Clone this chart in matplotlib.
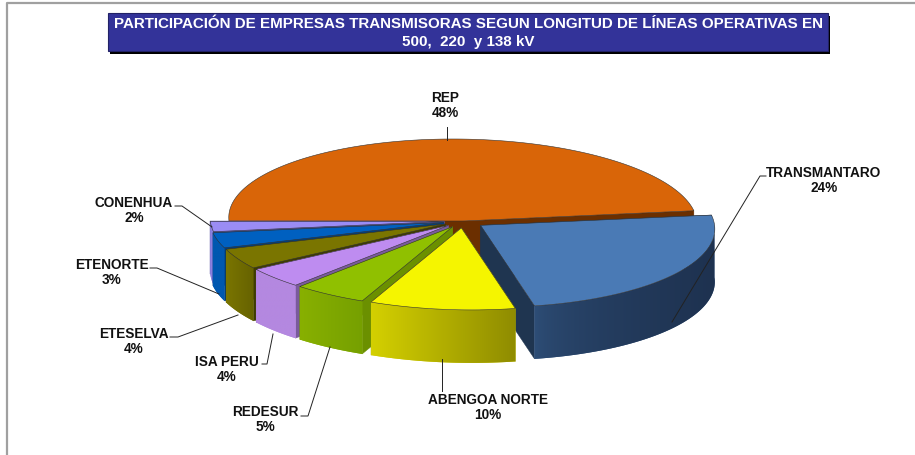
import numpy as np
import matplotlib
matplotlib.use("Agg")
import matplotlib.pyplot as plt
from matplotlib.colors import to_rgb
from matplotlib.patches import Polygon, Rectangle

plt.rcParams['font.family'] = ['Liberation Sans', 'DejaVu Sans']

# DATA (clockwise from the left edge of REP)
companies = ["REP", "TRANSMANTARO", "ABENGOA NORTE", "REDESUR", "ISA PERU", "ETESELVA", "ETENORTE", "CONENHUA"]
shares = [48, 24, 10, 5, 4, 4, 3, 2]
title_lines = ["PARTICIPACIÓN DE EMPRESAS TRANSMISORAS SEGUN LONGITUD DE LÍNEAS OPERATIVAS EN",
               "500,  220  y 138 kV"]

# PIE GEOMETRY (pixels)
CX, CY = 463, 222
RX, RY = 234, 82
DEPTH = 53
SHEAR = 0.125
START = 180
explode = [0, 0.09, 0.085, 0.085, 0.085, 0.085, 0.085, 0.08]
draw_order = [0, 7, 6, 5, 4, 3, 1, 2]

# COLORS
top_col = ["#D96508", "#4A7AB5", "#F5F500", "#90C000", "#BE8CF0", "#7A7500", "#0060C0", "#9A8CF5"]
side_col = ["#6B2F00", "#1F3550", "#8F8C00", "#6B9000", "#7A5A9C", "#3F3C00", "#003F80", "#6058A8"]
outer_left = ["#6B2F00", "#2F507A", "#D4D000", "#88B000", "#B488E0", "#7A7500", "#0058B0", "#8C80E0"]
outer_right = ["#6B2F00", "#1E3250", "#8F8C00", "#76A000", "#B488E0", "#666200", "#0058B0", "#8C80E0"]
grad_power = [1, 0.5, 1, 1, 1, 1, 1, 1]

# LABELS (text centre x, first line y)
label_pos = [(445, 98), (824, 173), (488, 400), (265, 412), (227, 362), (134, 334), (112, 265), (134, 203)]
leaders = [
    [(447, 128), (447, 141)],
    [(766, 177), (760, 177), (672, 323)],
    [(442, 360), (442, 392)],
    [(301, 417), (308, 417), (330, 348)],
    [(262, 365), (267, 365), (273, 335)],
    [(170, 338), (178, 338), (238, 316)],
    [(150, 269), (157, 269), (219, 295)],
    [(175, 207), (182, 207), (212, 228)],
]

fig = plt.figure(figsize=(9.15, 4.56), dpi=100)
ax = fig.add_axes([0, 0, 1, 1])
ax.set_xlim(0, 915)
ax.set_ylim(456, 0)
ax.set_autoscale_on(False)
ax.axis('off')

# page border
ax.plot([7, 7, 915], [456, 4, 4], color='#A0A0A0', lw=1.6, solid_capstyle='butt')

# title box
ax.add_patch(Rectangle((110, 17), 720, 38, fc='black', ec='none'))
ax.add_patch(Rectangle((108, 14), 720, 38, fc='#333399', ec='#222266', lw=0.8))
ax.text(468, 24.5, title_lines[0], color='white', fontsize=10.9, fontweight='bold', ha='center', va='center')
ax.text(468, 42, title_lines[1], color='white', fontsize=10.9, fontweight='bold', ha='center', va='center')


def top_xy(theta, e, mid):
    x = CX + RX * (e * np.cos(mid) + np.cos(theta))
    y = CY - RY * (e * np.sin(mid) + np.sin(theta))
    return x + SHEAR * (y - CY), y


def apex_xy(e, mid):
    x = CX + RX * e * np.cos(mid)
    y = CY - RY * e * np.sin(mid)
    return x + SHEAR * (y - CY), y


# slice angle ranges from the shares
hi = []
lo = []
a = START
for s in shares:
    hi.append(a)
    a = a - s * 3.6
    lo.append(a)

z = 2
for i in draw_order:
    t_hi, t_lo = np.radians(hi[i]), np.radians(lo[i])
    mid = (t_hi + t_lo) / 2
    e = explode[i]
    ts = np.linspace(t_hi, t_lo, 160)
    xs, ys = top_xy(ts, e, mid)
    ax0, ay0 = apex_xy(e, mid)

    # radial side walls
    for j in (0, -1):
        wall = [(ax0, ay0), (xs[j], ys[j]), (xs[j], ys[j] + DEPTH), (ax0, ay0 + DEPTH)]
        ax.add_patch(Polygon(wall, fc=side_col[i], ec=side_col[i], lw=0.3, zorder=z))
    z += 1

    # outer wall, only the part that faces front, filled with a left-right gradient
    front = np.sin(ts) < 0.02
    if front.any():
        fx, fy = xs[front], ys[front]
        shape = list(zip(fx, fy)) + list(zip(fx[::-1], fy[::-1] + DEPTH))
        outline = Polygon(shape, fc=outer_left[i], ec='none', zorder=z)
        ax.add_patch(outline)
        z += 1
        f = np.linspace(0, 1, 256) ** grad_power[i]
        c0, c1 = np.array(to_rgb(outer_left[i])), np.array(to_rgb(outer_right[i]))
        grad = (c0[None, :] + (c1 - c0)[None, :] * f[:, None])[None, :, :]
        im = ax.imshow(grad, extent=(fx.min(), fx.max(), fy.max() + DEPTH, fy.min()),
                       aspect='auto', interpolation='bilinear', zorder=z)
        im.set_clip_path(outline)
        z += 1

    # top face
    top = [(ax0, ay0)] + list(zip(xs, ys))
    ax.add_patch(Polygon(top, fc=top_col[i], ec='#333333', lw=0.4, zorder=z))
    z += 1

# labels and leader lines
for name, share, pos, line in zip(companies, shares, label_pos, leaders):
    ax.text(pos[0], pos[1], name, fontsize=9.8, fontweight='bold', color='#111111', ha='center', va='center', zorder=z)
    ax.text(pos[0], pos[1] + 15.5, f"{share}%", fontsize=9.8, fontweight='bold', color='#111111', ha='center', va='center', zorder=z)
    px, py = zip(*line)
    ax.plot(px, py, color='#222222', lw=0.7, zorder=z)

fig.savefig("out.png", dpi=100)
